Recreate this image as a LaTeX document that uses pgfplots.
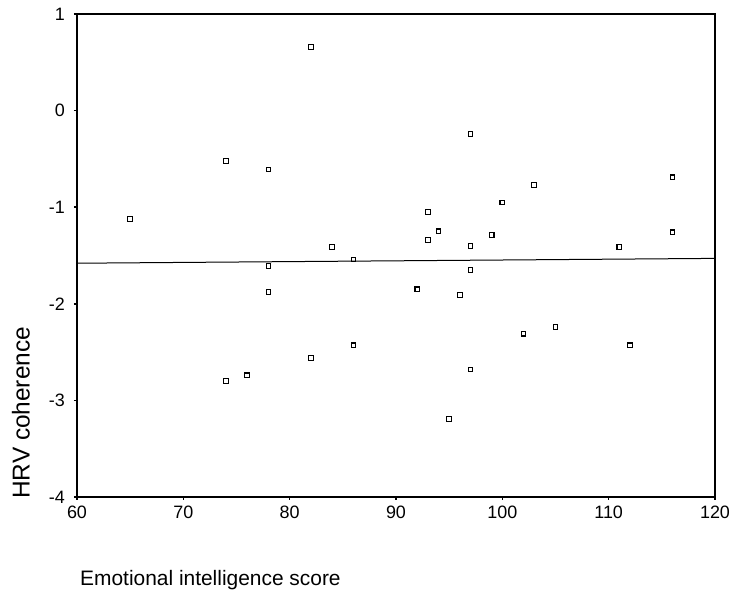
\documentclass[border=0pt]{standalone}
\usepackage{fontspec}
\setmainfont{Liberation Sans}
\usepackage{pgfplots}
\pgfplotsset{compat=1.18}
\begin{document}
\begin{tikzpicture}
\begin{axis}[
  scale only axis,
  width=638bp, height=483bp,
  xmin=60, xmax=120, ymin=-4, ymax=1,
  xtick={60,70,...,120}, ytick={-4,-3,...,1},
  tick align=outside,
  major tick length=3bp,
  tick style={black, line width=1.6bp},
  xtick pos=bottom, ytick pos=left,
  axis line style={black, line width=1.6bp},
  /pgf/number format/assume math mode=true,
  ticklabel style={font=\fontsize{18}{20}\selectfont},
  xticklabel style={inner sep=0pt, yshift=-6bp},
  yticklabel style={inner sep=0pt, xshift=-9bp},
  clip=false,
]
\addplot[black, line width=1bp, no marks] coordinates {(60,-1.58) (120,-1.53)};
\addplot[only marks, mark=square, mark size=2.3bp, mark options={black, line width=1.1bp}] coordinates {
(65,-1.12) (74,-0.52) (78,-0.61) (82,0.66) (84,-1.41) (86,-1.54)
(78,-1.61) (78,-1.88) (74,-2.80) (76,-2.74) (82,-2.56) (86,-2.43)
(97,-0.24) (103,-0.77) (116,-0.69) (100,-0.95) (93,-1.05) (94,-1.25)
(93,-1.34) (99,-1.29) (97,-1.40) (111,-1.41) (116,-1.26) (97,-1.65)
(92,-1.85) (96,-1.91) (102,-2.31) (105,-2.24) (112,-2.43) (97,-2.68)
(95,-3.19)
};
\end{axis}
\node[rotate=90, anchor=west, inner sep=0pt, font=\fontsize{24.5}{27}\selectfont]
  at ([xshift=-56bp, yshift=-2bp]current axis.south west) {HRV coherence};
\node[anchor=base west, inner sep=0pt, font=\fontsize{21}{24}\selectfont]
  at ([xshift=3bp, yshift=-88bp]current axis.south west) {Emotional intelligence score};
\path[use as bounding box] ([xshift=-77bp, yshift=-97bp]current axis.south west) rectangle ++(736bp,594bp);
\end{tikzpicture}
\end{document}
